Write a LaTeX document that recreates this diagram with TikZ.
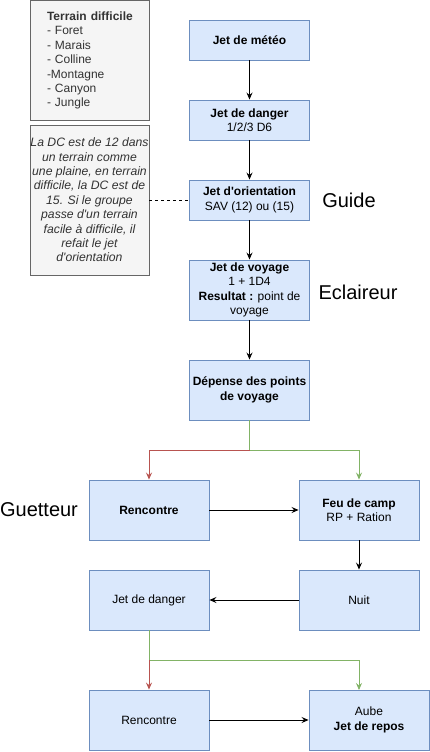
\documentclass[tikz,border=0pt]{standalone}
\usepackage{fontspec}
\setmainfont{Liberation Sans}
\usetikzlibrary{arrows.meta}
\definecolor{bfill}{HTML}{DAE8FC}
\definecolor{bdraw}{HTML}{6C8EBF}
\definecolor{gfill}{HTML}{F5F5F5}
\definecolor{gdraw}{HTML}{666666}
\definecolor{gtext}{HTML}{333333}
\definecolor{redl}{HTML}{B85450}
\definecolor{greenl}{HTML}{82B366}
\begin{document}
\begin{tikzpicture}[x=1pt,y=-1pt,
  box/.style={draw=bdraw, fill=bfill, line width=0.9pt, minimum width=120pt, minimum height=#1, inner sep=2pt, align=center, font=\fontsize{12}{14.4}\selectfont},
  box/.default=40pt,
  gbox/.style={draw=gdraw, fill=gfill, line width=0.9pt, text=gtext, font=\fontsize{12}{14.4}\selectfont},
  lbl/.style={font=\fontsize{20}{24}\selectfont, inner sep=0pt},
  arr/.style={-{Stealth[length=7pt,width=6pt,inset=2.5pt]}, line width=0.8pt},
  redarr/.style={arr, draw=redl},
  greenln/.style={draw=greenl, line width=0.8pt},
  greenarr/.style={arr, draw=greenl}]
\useasboundingbox (0,0) rectangle (430,752);
% grey boxes
\node[gbox, minimum width=119pt, minimum height=120pt, text width=85pt, inner xsep=17pt, align=left] (terrain) at (89.5,60.5)
  {\hbox{\textbf{Terrain difficile}}\\- Foret\\- Marais\\- Colline\\-Montagne\\- Canyon\\- Jungle};
\node[gbox, minimum width=119pt, minimum height=150pt, inner xsep=0pt, align=center, font=\fontsize{12.2}{14.4}\selectfont\itshape] (note) at (89.5,200)
  {La DC est de 12 dans\\un terrain comme\\une plaine, en terrain\\difficile, la DC est de\\15. Si le groupe\\passe d\textquotesingle un terrain\\facile à difficile, il\\refait le jet\\d\textquotesingle orientation};
% main column
\node[box] (meteo) at (249.5,40) {\textbf{Jet de météo}};
\node[box] (danger) at (249.5,120) {\textbf{Jet de danger}\\1/2/3 D6};
\node[box] (orient) at (249.5,200) {\textbf{Jet d\textquotesingle orientation}\\SAV (12) ou (15)};
\node[box=60pt] (voyage) at (249.5,290) {\textbf{Jet de voyage}\\1 + 1D4\\\textbf{Resultat :} point de\\voyage};
\node[box=60pt] (depense) at (249.5,390) {\textbf{Dépense des points}\\\textbf{de voyage}};
\node[box=60pt] (renc1) at (149,510) {\textbf{Rencontre}};
\node[box=60pt] (feu) at (359,510) {\textbf{Feu de camp}\\RP + Ration};
\node[box=60pt] (jd2) at (149,600) {Jet de danger};
\node[box=60pt] (nuit) at (359,600) {Nuit};
\node[box=60pt] (renc2) at (149,720) {Rencontre};
\node[box=60pt] (aube) at (369,720) {Aube\\\textbf{Jet de repos}};
% labels
\node[lbl] (guide) at (349,200) {Guide};
\node[lbl] (eclair) at (358,292) {Eclaireur};
\node[lbl] (guet) at (39,510) {Guetteur};
% connectors
\draw[arr] (meteo) -- (danger);
\draw[arr] (danger) -- (orient);
\draw[arr] (orient) -- (voyage);
\draw[arr] (voyage) -- (depense);
\draw[dashed, line width=0.8pt] (note.east |- orient.west) -- (orient.west);
\coordinate (s1) at (249.5,450);
\draw[greenln] (depense.south) -- (s1);
\draw[greenarr] (s1) -| (feu.north);
\draw[redarr] (s1) -| (renc1.north);
\draw[arr] (renc1) -- (feu);
\draw[arr] (feu) -- (nuit);
\draw[arr] (nuit) -- (jd2);
\coordinate (s2) at (149,660);
\coordinate (aubein) at (359,690);
\draw[greenln] (jd2.south) -- (s2);
\draw[greenarr] (s2) -| (aubein);
\draw[redarr] (s2) -- (renc2.north);
\draw[arr] (renc2) -- (aube);
\end{tikzpicture}
\end{document}
